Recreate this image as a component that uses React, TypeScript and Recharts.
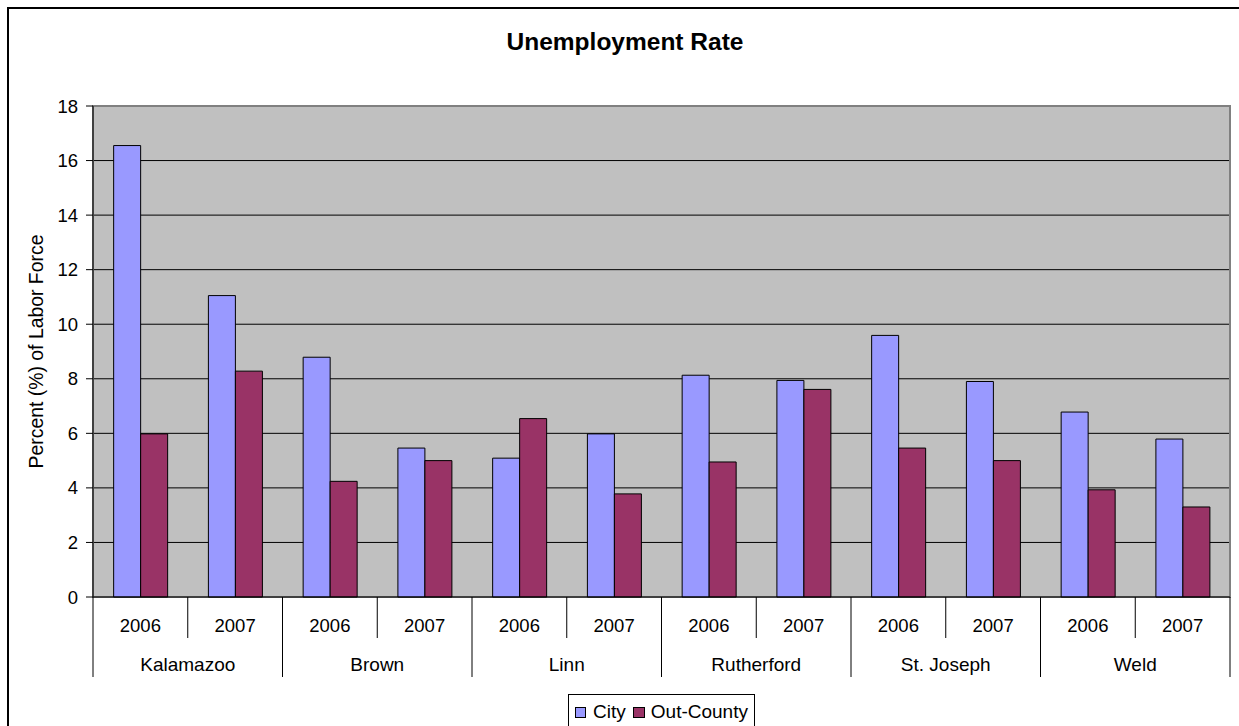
import React from 'react';
import { BarChart, Bar, XAxis, YAxis, CartesianGrid, Legend, ReferenceArea, Label } from 'recharts';

const years = ['2006', '2007', '2006', '2007', '2006', '2007', '2006', '2007', '2006', '2007', '2006', '2007'];
const groups = ['Kalamazoo', 'Kalamazoo', 'Brown', 'Brown', 'Linn', 'Linn', 'Rutherford', 'Rutherford', 'St. Joseph', 'St. Joseph', 'Weld', 'Weld'];
const cityValues = [16.55, 11.05, 8.79, 5.46, 5.09, 5.98, 8.13, 7.94, 9.59, 7.9, 6.78, 5.79];
const outCountyValues = [5.98, 8.28, 4.24, 5.0, 6.54, 3.78, 4.95, 7.61, 5.46, 5.0, 3.93, 3.3];
const yTicks = [0, 2, 4, 6, 8, 10, 12, 14, 16, 18];

const data = years.map((year, i) => ({
  year,
  group: groups[i],
  city: cityValues[i],
  outCounty: outCountyValues[i],
}));

const FONT = '"Liberation Sans", Arial, Helvetica, sans-serif';
const CHART_W = 1230;
const CHART_H = 717;
const MARGIN = { top: 97, right: 9, left: 24, bottom: 49 };
const Y_AXIS_W = 60;
const PLOT_W = CHART_W - MARGIN.left - MARGIN.right - Y_AXIS_W;

const YearTick = (props: any) => {
  const { x, y, payload } = props;
  const idx: number = payload?.index ?? props.index ?? 0;
  const off: number = payload?.offset ?? PLOT_W / years.length / 2;
  const group = groups[idx];
  const isFirst = idx === 0 || groups[idx - 1] !== group;
  const isLast = idx === years.length - 1;
  return (
    <g>
      <line x1={x - off} x2={x - off} y1={y} y2={y + (isFirst ? 80 : 41)} stroke="#000" strokeWidth={1} />
      {isLast && <line x1={x + off} x2={x + off} y1={y} y2={y + 80} stroke="#000" strokeWidth={1} />}
      <text x={x} y={y + 35} textAnchor="middle" fontSize={18.5} fontFamily={FONT} fill="#000">
        {payload.value}
      </text>
      {isFirst && (
        <text x={x + off} y={y + 74} textAnchor="middle" fontSize={19} fontFamily={FONT} fill="#000">
          {group}
        </text>
      )}
    </g>
  );
};

const renderLegend = () => (
  <div style={{ display: 'flex', justifyContent: 'center' }}>
    <div
      style={{
        display: 'flex',
        alignItems: 'center',
        border: '1px solid #000',
        height: 36,
        padding: '0 6px 0 6px',
        boxSizing: 'border-box',
        fontSize: 19,
        fontFamily: FONT,
        color: '#000',
        background: '#fff',
      }}
    >
      <span style={{ display: 'inline-block', width: 11, height: 11, background: '#9999FF', border: '1px solid #000', boxSizing: 'border-box' }} />
      <span style={{ marginLeft: 7 }}>City</span>
      <span style={{ display: 'inline-block', width: 12, height: 11, background: '#993366', border: '1px solid #000', boxSizing: 'border-box', marginLeft: 7 }} />
      <span style={{ marginLeft: 6 }}>Out-County</span>
    </div>
  </div>
);

export default function App() {
  return (
    <div style={{ position: 'fixed', left: 7, top: 7, width: 1232, height: 719, overflow: 'hidden' }}>
      <div
        style={{
          position: 'relative',
          width: 1245,
          height: 735,
          borderTop: '2px solid #000',
          borderLeft: '2px solid #000',
          boxSizing: 'border-box',
          background: '#fff',
        }}
      >
        <div
          style={{
            position: 'absolute',
            top: 21,
            left: 0,
            width: CHART_W + 2,
            textAlign: 'center',
            fontFamily: FONT,
            fontWeight: 'bold',
            fontSize: 24.5,
            lineHeight: '24px',
            color: '#000',
          }}
        >
          Unemployment Rate
        </div>
        <BarChart
          width={CHART_W}
          height={CHART_H}
          data={data}
          margin={MARGIN}
          barCategoryGap="21.8%"
          barGap={0}
        >
          <CartesianGrid vertical={false} stroke="#000" strokeWidth={1} fill="#C0C0C0" fillOpacity={1} />
          <ReferenceArea y1={0} y2={18} fill="none" stroke="#808080" strokeWidth={2} ifOverflow="visible" />
          <XAxis
            dataKey="year"
            interval={0}
            height={80}
            tickSize={0}
            tickMargin={0}
            tickLine={false}
            axisLine={{ stroke: '#000', strokeWidth: 1 }}
            tick={<YearTick />}
          />
          <YAxis
            width={Y_AXIS_W}
            domain={[0, 18]}
            ticks={yTicks}
            interval={0}
            tickSize={7}
            tickMargin={8}
            axisLine={{ stroke: '#000', strokeWidth: 1 }}
            tickLine={{ stroke: '#000', strokeWidth: 1 }}
            tick={{ fontSize: 18.5, fontFamily: FONT, fill: '#000' }}
          >
            <Label
              content={(p: any) => {
                const vb = p.viewBox || { x: MARGIN.left, y: MARGIN.top, width: Y_AXIS_W, height: 491 };
                return (
                  <text
                    transform={`translate(${vb.x + 10},${vb.y + vb.height / 2}) rotate(-90)`}
                    textAnchor="middle"
                    fontSize={19.4}
                    fontFamily={FONT}
                    fill="#000"
                  >
                    Percent (%) of Labor Force
                  </text>
                );
              }}
            />
          </YAxis>
          <Legend
            layout="horizontal"
            verticalAlign="middle"
            align="center"
            content={renderLegend}
            wrapperStyle={{ left: MARGIN.left + Y_AXIS_W, top: 685, width: PLOT_W, height: 40 }}
          />
          <Bar dataKey="city" name="City" fill="#9999FF" stroke="#000" strokeWidth={1} isAnimationActive={false} />
          <Bar dataKey="outCounty" name="Out-County" fill="#993366" stroke="#000" strokeWidth={1} isAnimationActive={false} />
        </BarChart>
      </div>
    </div>
  );
}
